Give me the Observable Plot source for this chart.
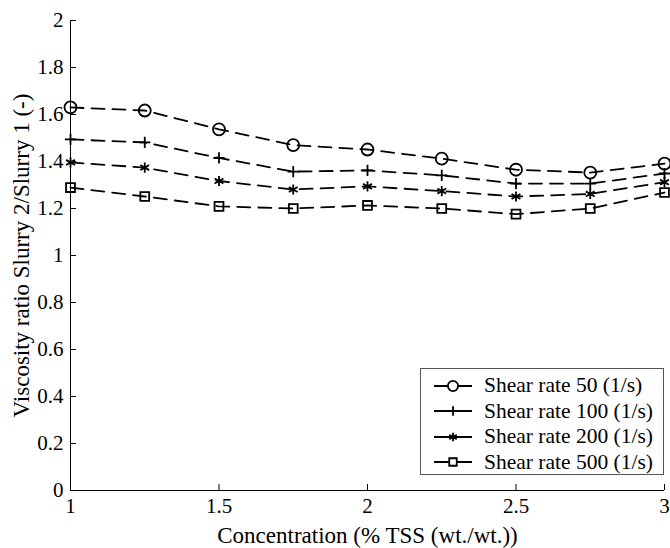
<!DOCTYPE html>
<html><head><meta charset="utf-8">
<script src="https://cdn.jsdelivr.net/npm/d3@7"></script>
<script src="https://cdn.jsdelivr.net/npm/@observablehq/plot@0.6"></script>
<style>
body{margin:0;background:#fff;}
#chart{position:relative;width:670px;height:548px;font-family:"Liberation Serif",Tinos,"Times New Roman",Times,"Nimbus Roman","DejaVu Serif",serif;}
#legend{position:absolute;left:420px;top:368px;width:244px;height:107px;border:1px solid #555;background:#fff;box-sizing:border-box;padding-top:4px;}
#legend .row{display:flex;align-items:center;height:25.5px;font-size:21.5px;color:#000;white-space:nowrap;}
#legend svg{margin-left:13px;margin-right:12px;}
</style></head>
<body><div id="chart"></div>
<script>
const concentration = [1, 1.25, 1.5, 1.75, 2, 2.25, 2.5, 2.75, 3];
const seriesNames = ["Shear rate 50 (1/s)", "Shear rate 100 (1/s)", "Shear rate 200 (1/s)", "Shear rate 500 (1/s)"];
const seriesSymbols = ["circle", "plus", "asterisk", "square"];
const rate50  = [1.63, 1.617, 1.537, 1.470, 1.451, 1.412, 1.365, 1.353, 1.391];
const rate100 = [1.494, 1.481, 1.415, 1.357, 1.362, 1.341, 1.306, 1.306, 1.349];
const rate200 = [1.396, 1.374, 1.317, 1.281, 1.294, 1.274, 1.251, 1.262, 1.312];
const rate500 = [1.289, 1.251, 1.209, 1.200, 1.213, 1.200, 1.176, 1.200, 1.268];
const xTicks = [1, 1.5, 2, 2.5, 3];
const yTicks = [0, 0.2, 0.4, 0.6, 0.8, 1, 1.2, 1.4, 1.6, 1.8, 2];
const xLabel = "Concentration (% TSS (wt./wt.))";
const yLabel = "Viscosity ratio Slurry 2/Slurry 1 (-)";

const allValues = [rate50, rate100, rate200, rate500];
const data = seriesNames.flatMap((s, i) => concentration.map((c, j) => ({series: s, x: c, y: allValues[i][j]})));
const symbolRadius = {circle: 6, plus: 3.7, asterisk: 4.8, square: 5};
const FONT = '"Liberation Serif",Tinos,"Times New Roman",Times,"Nimbus Roman","DejaVu Serif",serif';

const plot = Plot.plot({
  width: 670, height: 548,
  marginLeft: 70, marginRight: 6, marginTop: 20, marginBottom: 58,
  style: {fontFamily: FONT, fontSize: "21px", color: "#000", background: "#fff", overflow: "visible"},
  x: {domain: [1, 3]},
  y: {domain: [0, 2]},
  marks: [
    Plot.axisX({ticks: xTicks, tickSize: -6, tickPadding: 14, tickFormat: d => String(d), label: null}),
    Plot.axisY({ticks: yTicks, tickSize: -6, tickPadding: 13, tickFormat: d => String(d), label: null}),
    Plot.axisX({ticks: [], label: xLabel, labelAnchor: "center", labelArrow: "none", labelOffset: 52, fontSize: 23}),
    Plot.axisY({ticks: [], label: yLabel, labelAnchor: "center", labelArrow: "none", labelOffset: 58, fontSize: 23, dy: 7}),
    Plot.ruleX([1]),
    Plot.ruleY([0]),
    Plot.line(data, {x: "x", y: "y", z: "series", stroke: "black", strokeWidth: 1.8, strokeDasharray: "13,8"}),
    ...seriesNames.map((s, i) => Plot.dot(data.filter(d => d.series === s), {
      x: "x", y: "y", symbol: seriesSymbols[i], r: symbolRadius[seriesSymbols[i]],
      stroke: "black", fill: "none", strokeWidth: 1.8
    }))
  ]
});
const chart = document.getElementById("chart");
chart.appendChild(plot);

const legend = document.createElement("div");
legend.id = "legend";
const symMap = {circle: d3.symbolCircle, plus: d3.symbolPlus, asterisk: d3.symbolAsterisk, square: d3.symbolSquare};
seriesNames.forEach((name, i) => {
  const row = document.createElement("div");
  row.className = "row";
  const r = symbolRadius[seriesSymbols[i]] * 0.85;
  const path = d3.symbol(symMap[seriesSymbols[i]], Math.PI * r * r)();
  row.innerHTML = `<svg width="38" height="20" viewBox="-19 -10 38 20"><line x1="-19" x2="19" y1="0" y2="0" stroke="black" stroke-width="1.8"/><path d="${path}" fill="white" stroke="black" stroke-width="1.8"/></svg><span>${name}</span>`;
  legend.appendChild(row);
});
chart.appendChild(legend);
</script>
</body></html>
